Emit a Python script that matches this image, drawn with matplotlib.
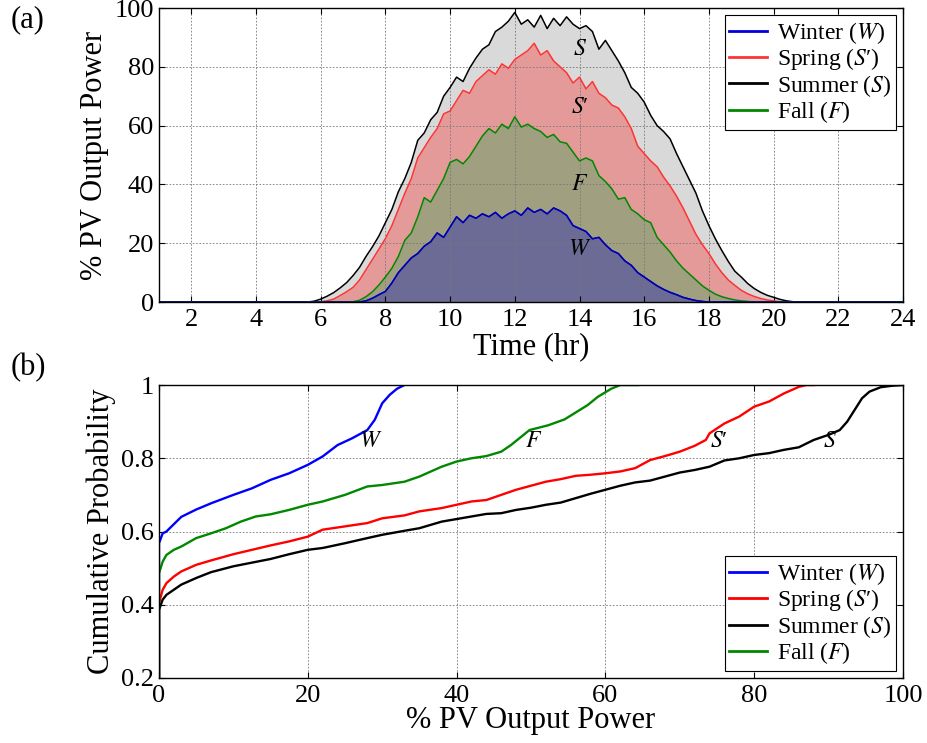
import matplotlib.pyplot as plt
import numpy as np

plt.rcParams['font.family'] = ['Liberation Serif', 'DejaVu Serif']
plt.rcParams['mathtext.fontset'] = 'stix'

# ---- (a) daily PV profile, sampled every 0.2 hr between 5.6 and 21.0 ----
hours = np.round(np.arange(5.6, 21.01, 0.2), 1)

summer = [0.0, 0.3, 1.0, 2.0, 3.2, 4.8, 6.6, 9.0, 11.8, 15.5,
          18.8, 22.5, 27.0, 31.5, 37.5, 42.0, 47.5, 55.0, 57.5, 62.0,
          64.5, 70.0, 73.0, 76.5, 75.0, 79.5, 83.0, 86.0, 87.5, 92.0,
          93.5, 95.5, 98.5, 94.5, 96.0, 93.5, 97.5, 93.0, 96.5, 94.0,
          97.0, 94.5, 93.0, 94.0, 92.0, 86.0, 89.0, 85.5, 82.0, 78.0,
          73.0, 71.0, 68.0, 63.5, 60.0, 58.0, 55.5, 50.5, 46.0, 41.5,
          37.0, 31.0, 26.0, 21.5, 17.5, 13.8, 10.5, 8.5, 6.3, 4.6,
          3.3, 2.3, 1.6, 0.9, 0.4, 0.1, 0.0, 0.0]
spring = [0.0, 0.0, 0.1, 0.4, 1.0, 2.2, 3.5, 5.0, 7.5, 11.0,
          14.5, 18.0, 21.6, 26.0, 31.5, 37.0, 42.0, 49.0, 52.5, 56.0,
          59.0, 64.0, 65.0, 68.5, 72.0, 71.0, 75.0, 77.0, 79.0, 77.5,
          81.0, 79.5, 82.5, 84.0, 85.5, 88.0, 84.0, 85.5, 82.0, 80.0,
          78.0, 74.5, 76.5, 72.5, 75.0, 71.0, 69.5, 67.0, 66.0, 63.0,
          59.0, 53.0, 50.5, 48.0, 46.0, 42.5, 39.5, 36.0, 32.0, 27.5,
          23.0, 19.5, 16.5, 13.0, 10.0, 7.5, 5.7, 4.0, 2.8, 1.9,
          1.2, 0.7, 0.4, 0.1, 0.0, 0.0, 0.0, 0.0]
fall = [0.0, 0.0, 0.0, 0.0, 0.0, 0.0, 0.0, 0.1, 0.6, 1.8,
        3.5, 5.8, 8.5, 11.5, 15.5, 21.0, 23.5, 29.0, 35.5, 34.0,
        38.0, 42.0, 47.5, 48.5, 47.0, 49.5, 53.0, 56.5, 59.0, 57.5,
        60.5, 59.0, 63.0, 59.5, 60.5, 59.0, 58.0, 56.0, 57.0, 54.5,
        54.0, 51.0, 48.0, 49.0, 48.0, 43.0, 41.0, 38.5, 35.0, 35.5,
        31.5, 30.0, 28.0, 27.0, 22.0, 19.5, 17.0, 14.0, 11.5, 9.5,
        7.5, 5.5, 4.0, 2.7, 1.8, 1.2, 0.7, 0.4, 0.2, 0.0,
        0.0, 0.0, 0.0, 0.0, 0.0, 0.0, 0.0, 0.0]
winter = [0.0, 0.0, 0.0, 0.0, 0.0, 0.0, 0.0, 0.0, 0.0, 0.4,
          1.3, 2.5, 3.6, 6.5, 10.0, 12.5, 15.0, 16.5, 19.0, 20.5,
          23.5, 22.0, 25.5, 29.0, 27.0, 29.5, 28.5, 30.0, 29.0, 30.5,
          28.5, 30.0, 31.0, 29.5, 32.0, 30.5, 31.5, 30.0, 32.0, 31.0,
          29.5, 26.0, 25.0, 24.0, 21.5, 22.0, 19.5, 17.5, 16.5, 14.0,
          12.5, 10.0, 8.5, 7.0, 5.5, 4.3, 3.3, 2.5, 1.6, 1.0,
          0.5, 0.2, 0.0, 0.0, 0.0, 0.0, 0.0, 0.0, 0.0, 0.0,
          0.0, 0.0, 0.0, 0.0, 0.0, 0.0, 0.0, 0.0]

# ---- (b) cumulative distributions: (% power, probability) ----
w_pow = [0, 0, 0.5, 1, 3, 5, 7, 10, 12.5, 15, 17.5, 20, 22, 24, 26, 28, 29, 30, 31, 32, 33]
w_cdf = [0.0, 0.568, 0.595, 0.60, 0.64, 0.66, 0.677, 0.70, 0.718, 0.741, 0.759,
         0.782, 0.805, 0.836, 0.855, 0.877, 0.905, 0.95, 0.973, 0.99, 1.0]
f_pow = [0, 0, 0.5, 1, 2, 3, 5, 7, 9, 11, 13, 15, 17.5, 20, 22, 25, 28, 30, 33, 35,
         38, 40, 42, 44, 46, 47.3, 49.8, 52.3, 54.5, 57.6, 59, 60.8, 62, 64.4]
f_cdf = [0.0, 0.486, 0.518, 0.536, 0.55, 0.559, 0.582, 0.595, 0.609, 0.627, 0.641,
         0.647, 0.659, 0.673, 0.682, 0.70, 0.723, 0.727, 0.736, 0.75, 0.777, 0.791,
         0.80, 0.806, 0.818, 0.836, 0.877, 0.89, 0.906, 0.945, 0.968, 0.99, 1.0, 1.0]
sp_pow = [0, 0, 0.5, 1, 2, 3, 5, 7, 10, 12.5, 15, 17.5, 20, 22, 25, 28, 30, 33, 35, 38,
          40, 42, 44, 46, 48, 50, 52, 54, 56, 58, 60, 62, 64, 66, 68, 70, 72, 73.5,
          74, 76, 78, 80, 82, 84, 86, 87, 88]
sp_cdf = [0.0, 0.405, 0.441, 0.459, 0.477, 0.491, 0.509, 0.521, 0.538, 0.55, 0.562,
          0.573, 0.586, 0.605, 0.614, 0.623, 0.636, 0.644, 0.655, 0.664, 0.673, 0.682,
          0.686, 0.70, 0.714, 0.725, 0.736, 0.743, 0.752, 0.755, 0.759, 0.764, 0.773,
          0.795, 0.806, 0.818, 0.834, 0.85, 0.868, 0.895, 0.914, 0.941, 0.955, 0.977,
          0.995, 1.0, 1.0]
su_pow = [0, 0, 0.5, 1, 2, 3, 5, 7, 10, 12.5, 15, 17.5, 20, 22, 25, 28, 30, 33, 35, 38,
          40, 42, 44, 46, 48, 50, 52, 54, 56, 58, 60, 62, 64, 66, 68, 70, 72, 74, 76,
          78, 80, 82, 84, 86, 88, 90, 91.5, 92.5, 93.5, 94.5, 95.5, 97, 98.5, 100]
su_cdf = [0.0, 0.386, 0.414, 0.427, 0.441, 0.455, 0.473, 0.489, 0.505, 0.515, 0.525,
          0.538, 0.55, 0.555, 0.568, 0.582, 0.591, 0.602, 0.609, 0.627, 0.634, 0.641,
          0.648, 0.65, 0.659, 0.665, 0.673, 0.679, 0.691, 0.703, 0.714, 0.725, 0.734,
          0.739, 0.75, 0.761, 0.768, 0.777, 0.794, 0.80, 0.809, 0.814, 0.823, 0.83,
          0.85, 0.864, 0.877, 0.90, 0.932, 0.964, 0.982, 0.994, 0.998, 1.0]

labels = ['Winter ($W$)', 'Spring ($S$′)', 'Summer ($S$)', 'Fall ($F$)']
line_cols = ['#0000dd', '#ff3333', 'black', '#008800']
cdf_cols = ['#0000ff', '#ff0000', 'black', '#008800']
fill_cols = {'summer': '#d9d9d9', 'spring': '#e59a9a', 'fall': '#a09f80', 'winter': '#6b6b95'}

fig = plt.figure(figsize=(9.27, 7.43), dpi=100)
ax1 = fig.add_axes([0.1715, 0.5935, 0.8026, 0.3957])
ax2 = fig.add_axes([0.1715, 0.0875, 0.8026, 0.3943])

# full-day time axis: zero before sunrise and after sunset
t = np.concatenate([[1.0], hours, [24.0]])
def pad(v):
    return np.concatenate([[0.0], v, [0.0]])

for key, vals in [('summer', summer), ('spring', spring), ('fall', fall), ('winter', winter)]:
    ax1.fill_between(t, 0, pad(vals), color=fill_cols[key], lw=0, zorder=1)
for vals, col, lab in zip([winter, spring, summer, fall], line_cols, labels):
    ax1.plot(t, pad(vals), color=col, lw=1.1, zorder=3, label=lab)
ax1.plot(t, pad(winter), color='#0000aa', lw=1.0, zorder=3)

for x, y, s in [(14.0, 86, '$S$'), (14.0, 66, '$S$′'), (14.0, 40, '$F$'), (14.0, 18, '$W$')]:
    ax1.text(x, y, s, fontsize=17, ha='center', va='center', zorder=4)

ax1.set_xlim(1, 24)
ax1.set_ylim(0, 100)
ax1.set_xticks(range(2, 25, 2))
ax1.set_yticks(range(0, 101, 20))
ax1.set_xlabel('Time (hr)', fontsize=22, labelpad=1)
ax1.set_ylabel('% PV Output Power', fontsize=22, labelpad=4)

# ---- (b) ----
for xs, ys, col, lab in zip([w_pow, sp_pow, su_pow, f_pow], [w_cdf, sp_cdf, su_cdf, f_cdf],
                            cdf_cols, labels):
    ax2.plot(xs, ys, color=col, lw=1.7, label=lab, zorder=3)
for x, y, s in [(28.5, 0.845, '$W$'), (50.3, 0.845, '$F$'), (75.3, 0.845, '$S$′'), (90.2, 0.845, '$S$')]:
    ax2.text(x, y, s, fontsize=17, ha='center', va='center')

ax2.set_xlim(0, 100)
ax2.set_ylim(0.2, 1)
ax2.set_xticks(range(0, 101, 20))
ax2.set_yticks([0.2, 0.4, 0.6, 0.8, 1.0])
ax2.set_yticklabels(['0.2', '0.4', '0.6', '0.8', '1'])
ax2.set_xlabel('% PV Output Power', fontsize=22, labelpad=-1)
ax2.set_ylabel('Cumulative Probability', fontsize=22, labelpad=4)

for ax in (ax1, ax2):
    ax.grid(True, color='#777777', linestyle=(0, (2, 2)), lw=0.6, zorder=2)
    ax.set_axisbelow(False)
    ax.tick_params(direction='in', top=True, right=True, labelsize=19, length=4, width=0.8)
    ax.tick_params(axis='x', pad=5)
    for sp in ax.spines.values():
        sp.set_linewidth(1.0)
        sp.set_zorder(5)
    leg = ax.legend(loc='upper right' if ax is ax1 else 'lower right', fontsize=17,
                    handlelength=1.6, labelspacing=0.02, handletextpad=0.4,
                    borderpad=0.2, borderaxespad=0.3, fancybox=False, framealpha=1,
                    edgecolor='black')
    leg.get_frame().set_linewidth(0.8)
    leg.set_zorder(6)
    for ln in leg.get_lines():
        ln.set_linewidth(2.0)

fig.text(0.012, 0.973, '(a)', fontsize=22, va='center')
fig.text(0.012, 0.505, '(b)', fontsize=22, va='center')

fig.savefig('out.png', dpi=100)
